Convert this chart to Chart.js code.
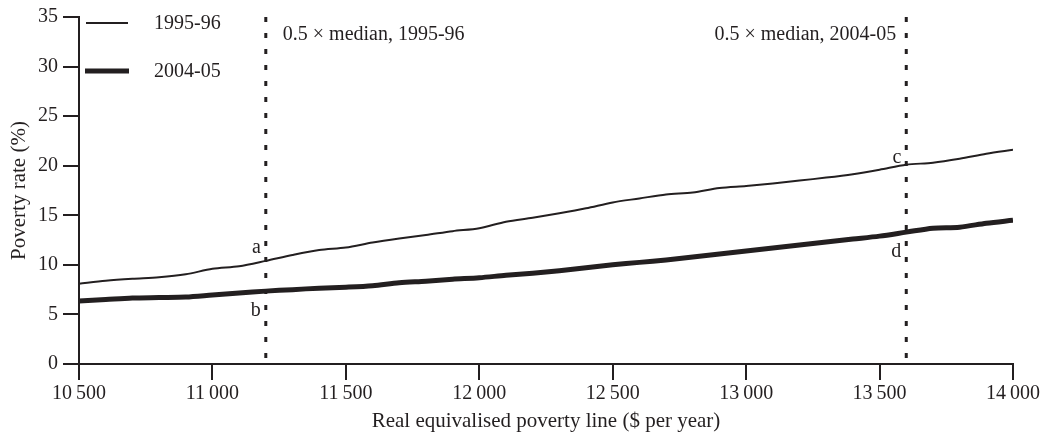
<!DOCTYPE html>
<html>
<head>
<meta charset="utf-8">
<script src="https://cdn.jsdelivr.net/npm/chart.js@4"></script>
<style>
  html, body { margin: 0; padding: 0; background: #fff; }
  #wrap { width: 1053px; height: 434px; }
</style>
</head>
<body>
<div id="wrap"><canvas id="povertyChart" width="1053" height="434"></canvas></div>
<script>
// poverty line ($ per year), every 100
const povertyLine = [10500, 10600, 10700, 10800, 10900, 11000, 11100, 11200, 11300, 11400, 11500, 11600,
    11700, 11800, 11900, 12000, 12100, 12200, 12300, 12400, 12500, 12600, 12700, 12800, 12900, 13000,
    13100, 13200, 13300, 13400, 13500, 13600, 13700, 13800, 13900, 14000];
const rate9596 = [8.1, 8.4, 8.6, 8.75, 9.05, 9.6, 9.85, 10.4, 11.0, 11.5, 11.75, 12.25,
    12.65, 13.0, 13.4, 13.7, 14.35, 14.75, 15.2, 15.7, 16.3, 16.7, 17.1, 17.3, 17.75, 17.95,
    18.2, 18.5, 18.8, 19.15, 19.6, 20.1, 20.3, 20.7, 21.2, 21.6];
const rate0405 = [6.35, 6.5, 6.65, 6.7, 6.75, 6.95, 7.15, 7.35, 7.5, 7.65, 7.75, 7.9,
    8.2, 8.35, 8.55, 8.7, 8.95, 9.15, 9.4, 9.7, 10.0, 10.25, 10.5, 10.8, 11.1, 11.4,
    11.7, 12.0, 12.3, 12.6, 12.9, 13.3, 13.7, 13.8, 14.2, 14.5];
const seriesNames = ['1995-96', '2004-05'];
const medianLines = [11200, 13600];
const medianLabels = ['0.5 \u00d7 median, 1995-96', '0.5 \u00d7 median, 2004-05'];
const pointLetters = ['a', 'b', 'c', 'd'];
const pointLetterX = [11200, 11200, 13600, 13600];
const pointLetterY = [11.7, 5.4, 20.8, 11.3];

const ink = '#231f20';
const serif = "'Liberation Serif', 'Times New Roman', serif";

function toPoints(xs, ys) {
    return xs.map((x, i) => ({ x: x, y: ys[i] }));
}

function fmt(v) {
    const s = String(v);
    return s.length > 3 ? s.slice(0, s.length - 3) + '\u2009' + s.slice(-3) : s;
}

const annotations = {
    id: 'annotations',
    afterDatasetsDraw(chart) {
        const ctx = chart.ctx;
        const xs = chart.scales.x, ys = chart.scales.y;
        ctx.save();
        ctx.fillStyle = ink;
        ctx.font = '20px ' + serif;
        ctx.textBaseline = 'middle';
        // median labels
        ctx.textAlign = 'left';
        ctx.fillText(medianLabels[0], xs.getPixelForValue(medianLines[0]) + 17, ys.getPixelForValue(33.2));
        ctx.textAlign = 'right';
        ctx.fillText(medianLabels[1], xs.getPixelForValue(medianLines[1]) - 10, ys.getPixelForValue(33.2));
        // a b c d
        for (let i = 0; i < pointLetters.length; i++) {
            ctx.fillText(pointLetters[i], xs.getPixelForValue(pointLetterX[i]) - 5, ys.getPixelForValue(pointLetterY[i]));
        }
        // legend
        ctx.strokeStyle = ink;
        ctx.lineWidth = 2;
        ctx.beginPath(); ctx.moveTo(86, 23); ctx.lineTo(128, 23); ctx.stroke();
        ctx.lineWidth = 5;
        ctx.beginPath(); ctx.moveTo(85, 71); ctx.lineTo(129, 71); ctx.stroke();
        ctx.textAlign = 'left';
        ctx.fillText(seriesNames[0], 154, 24);
        ctx.fillText(seriesNames[1], 154, 72);
        ctx.restore();
    }
};

const datasets = [
    {
        label: seriesNames[0],
        data: toPoints(povertyLine, rate9596),
        borderColor: ink, borderWidth: 2, pointRadius: 0, tension: 0.3, order: 1
    },
    {
        label: seriesNames[1],
        data: toPoints(povertyLine, rate0405),
        borderColor: ink, borderWidth: 5, pointRadius: 0, tension: 0.3, order: 1
    }
];
medianLines.forEach(m => {
    datasets.push({
        label: 'median ' + m,
        data: [{ x: m, y: 35 }, { x: m, y: 0.6 }],
        borderColor: ink, borderWidth: 3, borderDash: [5, 11], pointRadius: 0, order: 2
    });
});

new Chart(document.getElementById('povertyChart').getContext('2d'), {
    type: 'line',
    data: { datasets: datasets },
    plugins: [annotations],
    options: {
        responsive: false,
        animation: false,
        layout: { padding: { left: 0, right: 40, top: 17, bottom: 0 } },
        plugins: { legend: { display: false }, tooltip: { enabled: false } },
        scales: {
            x: {
                type: 'linear', min: 10500, max: 14000,
                afterFit: s => { s.height = 70; },
                border: { display: true, color: ink, width: 2 },
                grid: { drawOnChartArea: false, drawTicks: true, tickLength: 16, color: ink, lineWidth: 2 },
                ticks: { stepSize: 500, color: ink, padding: 2, maxRotation: 0, font: { family: serif, size: 20 }, callback: v => fmt(v) },
                title: { display: true, text: 'Real equivalised poverty line ($ per year)', color: ink, font: { family: serif, size: 21 }, padding: { top: 0, bottom: 0 } }
            },
            y: {
                min: 0, max: 35,
                afterFit: s => { s.width = 79; },
                border: { display: true, color: ink, width: 2 },
                grid: { drawOnChartArea: false, drawTicks: true, tickLength: 16, color: ink, lineWidth: 2 },
                ticks: { stepSize: 5, color: ink, padding: 5, font: { family: serif, size: 20 } },
                title: { display: true, text: 'Poverty rate (%)', color: ink, font: { family: serif, size: 21 }, padding: { top: 7, bottom: 0 } }
            }
        }
    }
});
</script>
</body>
</html>
